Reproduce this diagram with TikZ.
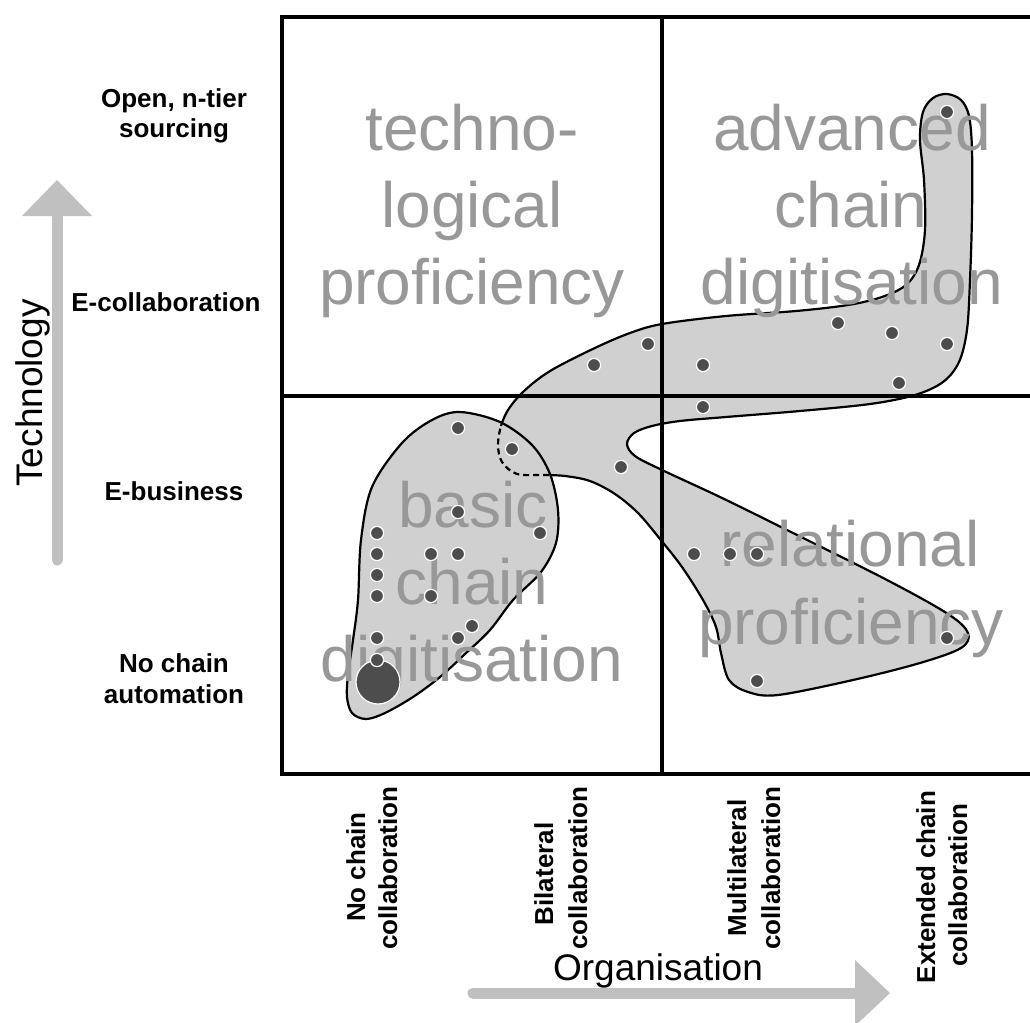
\documentclass[tikz,border=0pt]{standalone}
\usepackage{fontspec}
\setmainfont{Liberation Sans}
\definecolor{blobfill}{RGB}{208,208,208}
\definecolor{qtext}{RGB}{152,152,152}
\definecolor{dotc}{RGB}{77,77,77}
\definecolor{arrowc}{RGB}{192,192,192}
\def\blobOnePath{plot[smooth cycle, tension=0.55] coordinates {
 (460,412) (500,422) (532,445) (550,474) (558,510) (556,543) (541,572)
 (513,600) (490,630) (465,654) (440,677) (413,697) (385,713) (366,719)
 (352,713) (347,697) (348,675) (353,640) (358,600) (361,540)
 (372,487) (402,443) (432,420)}}
\def\blobTwoPath{plot[smooth cycle, tension=0.55] coordinates {
 (498,445) (501,426) (508,410) (520,395) (537,380) (557,367) (597,347)
 (630,333) (662,324) (726,316) (796,311) (848,305) (882,297) (906,285)
 (919,265) (925,230) (924,180) (920,140) (923,112) (933,98) (947,94)
 (961,100) (969,116) (972,150) (972,215) (970,280) (967,330) (959,362)
 (943,382) (915,395) (870,404) (800,411) (726,417) (680,421) (652,426)
 (634,433) (627,444) (635,456) (662,470) (720,497) (787,530) (887,580)
 (948,614) (968,633) (961,648) (920,663) (853,680) (778,695) (748,692)
 (729,680) (721,653) (716,627) (703,600) (682,567) (660,539) (638,513)
 (615,494) (590,481) (565,476) (545,475) (517,474) (502,462)}}
\begin{document}
\begin{tikzpicture}[x=0.5pt,y=-0.5pt,
  outline/.style={draw=black, line width=1.1pt},
  gridline/.style={draw=black, line width=1.6pt},
  qlab/.style={text=qtext, font=\fontsize{32}{38}\selectfont, anchor=base, inner sep=0pt},
  ylab/.style={font=\bfseries\fontsize{13}{15}\selectfont, anchor=base, inner sep=0pt},
  xlab/.style={font=\bfseries\fontsize{13}{15}\selectfont, anchor=base, inner sep=0pt, rotate=90},
  axlab/.style={font=\fontsize{18.5}{22}\selectfont, anchor=base, inner sep=0pt},
  dotmark/.style={fill=dotc, draw=white, line width=0.6pt},
  arrowshaft/.style={draw=arrowc, line width=5.5pt, line cap=round},
  arrowhead/.style={fill=arrowc}]
\useasboundingbox (0,0) rectangle (1030,1023);
\clip (0,0) rectangle (1030,1023);

% blobs
\fill[blobfill] \blobTwoPath;
\draw[outline] \blobTwoPath;
\fill[blobfill] \blobOnePath;
\begin{scope}
  \clip \blobOnePath;
  \draw[outline, dash pattern=on 3pt off 2pt] \blobTwoPath;
\end{scope}
\draw[outline] \blobOnePath;

% grid
\draw[gridline] (1040,17) -- (282,17) -- (282,774) -- (1040,774);
\draw[gridline] (662,17) -- (662,774);
\draw[gridline] (282,396) -- (1040,396);

% quadrant labels
\node[qlab] (q1a) at (472,150) {techno-};
\node[qlab] (q1b) at (472,227) {logical};
\node[qlab] (q1c) at (472,304) {proficiency};
\node[qlab] (q2a) at (852,150) {advanced};
\node[qlab] (q2b) at (851,227) {chain};
\node[qlab] (q2c) at (852,304) {digitisation};
\node[qlab] (q3a) at (473,527) {basic};
\node[qlab] (q3b) at (472,604) {chain};
\node[qlab] (q3c) at (472,681) {digitisation};
\node[qlab] (q4a) at (850,566) {relational};
\node[qlab] (q4b) at (851,644) {proficiency};

% technology axis
\draw[arrowshaft] (57,560) -- (57,212);
\fill[arrowhead] (22,216) -- (92,216) -- (57,180) -- cycle;
\node[axlab, rotate=90] (tech) at (42,393) {Technology};
\node[ylab] (t1a) at (174,107) {Open, n-tier};
\node[ylab] (t1b) at (174,137) {sourcing};
\node[ylab] (t2) at (166,311) {E-collaboration};
\node[ylab] (t3) at (174,500) {E-business};
\node[ylab] (t4a) at (174,672) {No chain};
\node[ylab] (t4b) at (174,703) {automation};

% organisation axis
\draw[arrowshaft] (473,993) -- (858,993);
\fill[arrowhead] (855,960) -- (890,993) -- (855,1026) -- cycle;
\node[axlab] (org) at (658,980) {Organisation};
\node[xlab] (o1a) at (365,867) {No chain};
\node[xlab] (o1b) at (397,868) {collaboration};
\node[xlab] (o2a) at (553,874) {Bilateral};
\node[xlab] (o2b) at (587,868) {collaboration};
\node[xlab] (o3a) at (746,868) {Multilateral};
\node[xlab] (o3b) at (780,868) {collaboration};
\node[xlab] (o4a) at (935,887) {Extended chain};
\node[xlab] (o4b) at (967,885) {collaboration};

% dots
\fill[dotmark] (378,682) circle (11pt);
\foreach \p in {(458,428),(512,449),(458,512),(540,533),
  (377,533),(377,554),(377,575),(377,596),(431,554),(458,554),(431,596),
  (472,626),(458,638),(377,638),(377,660),
  (594,365),(648,344),(703,365),(703,407),(621,467),
  (838,323),(892,333),(947,344),(899,383),(947,112),
  (694,554),(730,554),(757,554),(947,638),(757,681)}
  \fill[dotmark] \p circle (3.3pt);
\end{tikzpicture}
\end{document}
